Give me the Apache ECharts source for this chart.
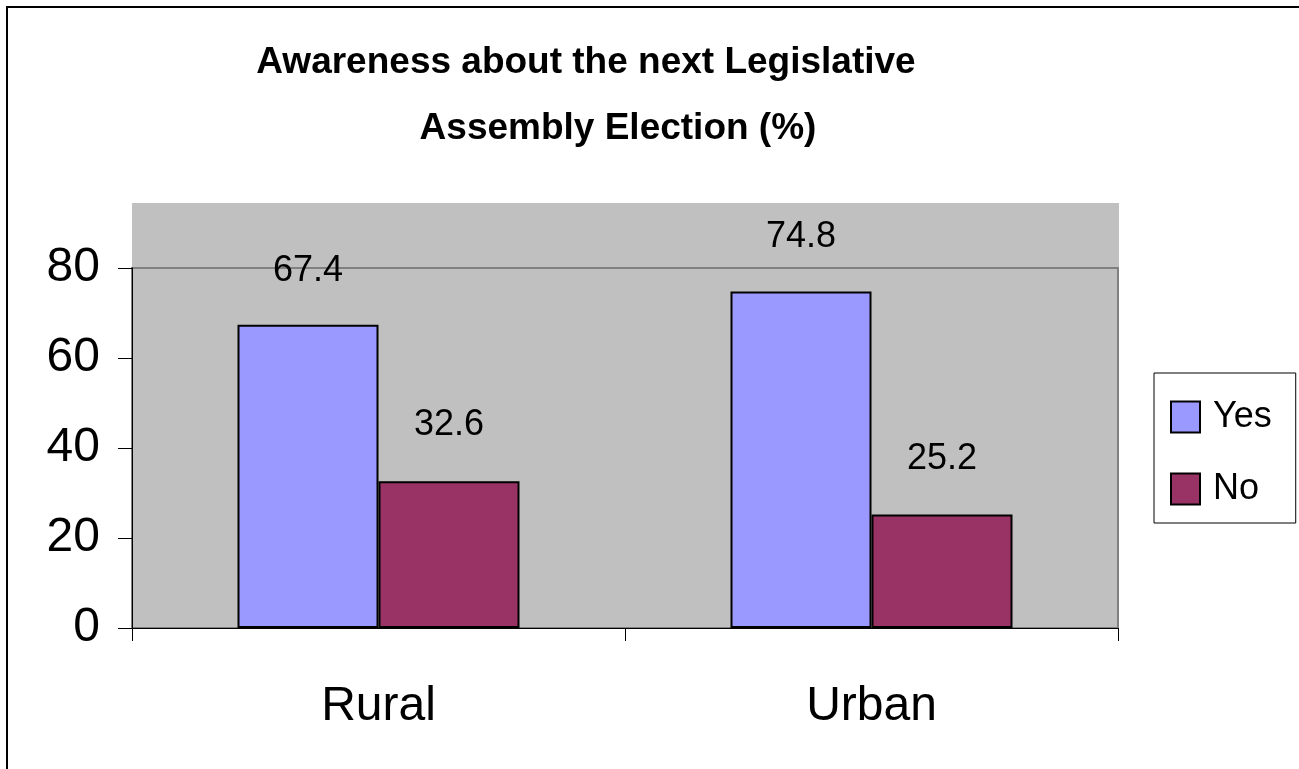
<!DOCTYPE html>
<html>
<head>
<meta charset="utf-8">
<style>
  html, body { margin: 0; padding: 0; background: #fff; overflow: hidden; }
  #chart { width: 1299px; height: 769px; }
</style>
<script src="https://cdn.jsdelivr.net/npm/echarts@6/dist/echarts.min.js"></script>
</head>
<body>
<div id="chart"></div>
<script>
const categories = ['Rural', 'Urban'];
const yesValues = [67.4, 74.8];
const noValues = [32.6, 25.2];
const seriesNames = ['Yes', 'No'];
const titleLine1 = 'Awareness about the next Legislative';
const titleLine2 = 'Assembly Election (%)';

const FONT = '"Liberation Sans", Arial, sans-serif';
const chart = echarts.init(document.getElementById('chart'), null, { renderer: 'canvas' });

function labelStyle(distance) {
  return {
    show: true,
    position: 'top',
    distance: distance,
    color: '#000',
    fontSize: 36,
    fontFamily: FONT
  };
}

chart.setOption({
  backgroundColor: '#fff',
  animation: false,
  textStyle: { fontFamily: FONT },
  title: [
    {
      text: titleLine1,
      left: 586, top: 44, padding: 0, textAlign: 'center',
      textStyle: { fontSize: 37, fontWeight: 'bold', color: '#000', fontFamily: FONT, lineHeight: 37 }
    },
    {
      text: titleLine2,
      left: 618, top: 110, padding: 0, textAlign: 'center',
      textStyle: { fontSize: 37, fontWeight: 'bold', color: '#000', fontFamily: FONT, lineHeight: 37 }
    }
  ],
  graphic: [
    {
      type: 'polyline', z: -5, silent: true,
      shape: { points: [[7, 769], [7, 7], [1299, 7]] },
      style: { fill: null, stroke: '#000', lineWidth: 2 }
    },
    {
      type: 'rect', z: -10, silent: true,
      shape: { x: 132, y: 203, width: 987, height: 66 },
      style: { fill: '#C0C0C0' }
    }
  ],
  legend: {
    orient: 'vertical',
    left: 1154, top: 373,
    padding: [26, 24, 16, 16],
    itemWidth: 29, itemHeight: 31, itemGap: 36,
    icon: 'rect',
    backgroundColor: '#fff',
    borderColor: '#000', borderWidth: 1,
    textStyle: { fontSize: 36, color: '#000', fontFamily: FONT, padding: [0, 0, 0, 8] },
    data: seriesNames
  },
  grid: {
    left: 132, right: 181, top: 268, bottom: 141,
    show: true, backgroundColor: '#C0C0C0', borderColor: '#808080', borderWidth: 2
  },
  xAxis: {
    type: 'category',
    data: categories,
    boundaryGap: true,
    axisLine: { lineStyle: { color: '#000', width: 1 } },
    axisTick: { show: true, length: 13, lineStyle: { color: '#000' } },
    axisLabel: { fontSize: 48, color: '#000', margin: 55, fontFamily: FONT },
    splitLine: { show: false }
  },
  yAxis: {
    type: 'value',
    min: 0, max: 80, interval: 20,
    axisLine: { show: true, lineStyle: { color: '#000', width: 1 } },
    axisTick: { show: true, length: 14, lineStyle: { color: '#000' } },
    axisLabel: { fontSize: 48, color: '#000', margin: 32, fontFamily: FONT },
    splitLine: { show: false }
  },
  series: [
    {
      name: seriesNames[0], type: 'bar', data: yesValues,
      barWidth: 141, barGap: '0%',
      itemStyle: { color: '#9999FF', borderColor: '#000', borderWidth: 2 },
      label: labelStyle(36)
    },
    {
      name: seriesNames[1], type: 'bar', data: noValues,
      barWidth: 141, barGap: '0%',
      itemStyle: { color: '#993366', borderColor: '#000', borderWidth: 2 },
      label: labelStyle(38)
    }
  ]
});
</script>
</body>
</html>
